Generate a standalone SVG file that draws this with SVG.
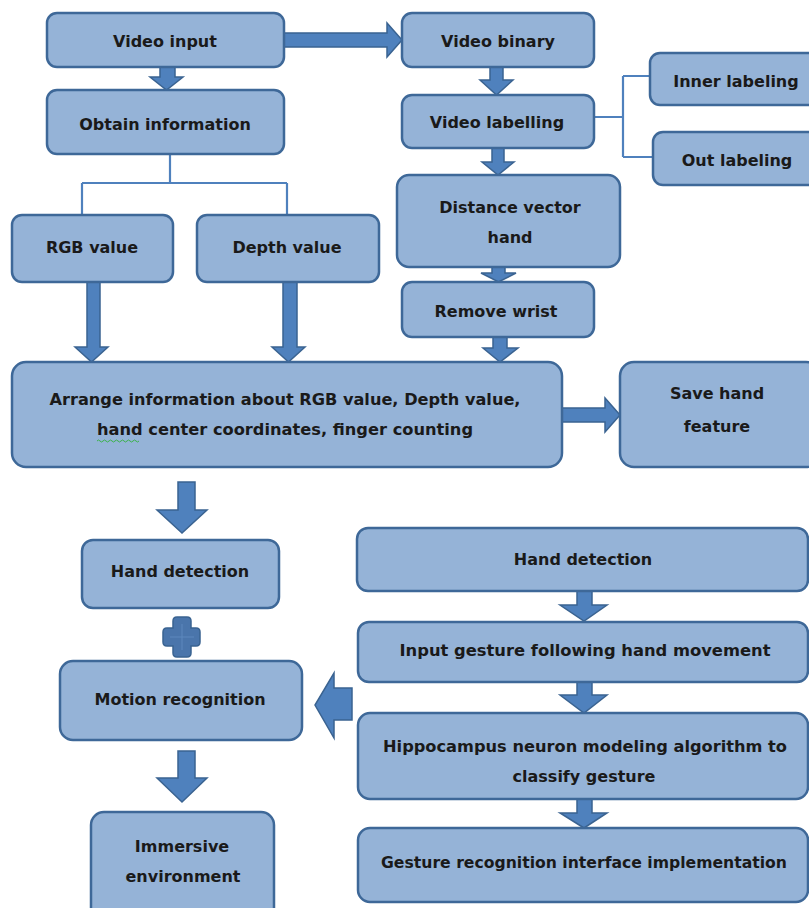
<svg xmlns="http://www.w3.org/2000/svg" width="809" height="908" viewBox="0 0 809 908">
<style>
.box{fill:#95b3d7;stroke:#3e6898;stroke-width:2.5}
.arr{fill:#4f81bd;stroke:#3a6391;stroke-width:1.5;stroke-linejoin:miter}
.ln{fill:none;stroke:#4f81bd;stroke-width:2.2}
text{font-family:"DejaVu Sans","Liberation Sans",sans-serif;font-weight:bold;font-size:16px;fill:#1a1a1a;text-anchor:middle}
</style>
<rect width="809" height="908" fill="#ffffff"/>
<g id="connectors">
<polygon class="arr" points="160,67 175,67 175,77 183,77 166.5,90 150,77 160,77"/>
<polygon class="arr" points="284,33 387,33 387,23 402,40 387,57 387,47 284,47"/>
<polygon class="arr" points="490,67 503,67 503,80 513,80 496.5,95 480,80 490,80"/>
<polygon class="arr" points="492,148 504,148 504,162 514,162 498,175 482,162 492,162"/>
<polygon class="arr" points="492,267 505,267 505,273 516,273 498.5,282 481,273 492,273"/>
<polygon class="arr" points="493,337 507,337 507,348 518,348 500,362 483,348 493,348"/>
<polygon class="arr" points="87,282 100,282 100,347 108,347 91.5,362 75,347 87,347"/>
<polygon class="arr" points="283,282 297,282 297,347 305,347 288.5,362 272,347 283,347"/>
<polygon class="arr" points="562,408 605,408 605,398 620,415 605,432 605,422 562,422"/>
<polygon class="arr" points="178,482 195,482 195,510 207,510 182,533 157,510 178,510"/>
<polygon class="arr" points="178,751 195,751 195,778 207,778 182,802 157,778 178,778"/>
<polygon class="arr" points="352,688 352,720 334,720 334,738 315,705 334,673 334,688"/>
<polygon class="arr" points="577,591 592,591 592,605 607,605 584,621 560,605 577,605"/>
<polygon class="arr" points="577,682 592,682 592,695 607,695 584,713 560,695 577,695"/>
<polygon class="arr" points="577,799 592,799 592,813 607,813 584,828 560,813 577,813"/>
<path class="ln" d="M170,154 V183 M82,183 H287 M82,183 V215 M287,183 V215"/>
<path class="ln" d="M594,117 H623 M623,76 V157 M623,76 H650 M623,157 H653"/>
<path d="M177,617 H187 Q191,617 191,621 V628 H196 Q200,628 200,632 V642 Q200,646 196,646 H191 V653 Q191,657 187,657 H177 Q173,657 173,653 V646 H167 Q163,646 163,642 V632 Q163,628 167,628 H173 V621 Q173,617 177,617 Z" fill="#4a75ab" stroke="#3a6391" stroke-width="1.5"/>
<path d="M182,624 V650 M170,637 H194" stroke="#5d88bd" stroke-width="1" fill="none"/>
</g>
<g id="video-input"><rect class="box" x="47" y="13" width="237" height="54" rx="10"/><text x="165" y="47">Video input</text></g>
<g id="obtain-information"><rect class="box" x="47" y="90" width="237" height="64" rx="10"/><text x="165" y="130">Obtain information</text></g>
<g id="video-binary"><rect class="box" x="402" y="13" width="192" height="54" rx="10"/><text x="498" y="47">Video binary</text></g>
<g id="video-labelling"><rect class="box" x="402" y="95" width="192" height="53" rx="10"/><text x="497" y="128">Video labelling</text></g>
<g id="inner-labeling"><rect class="box" x="650" y="53" width="170" height="52" rx="10"/><text x="736" y="87">Inner labeling</text></g>
<g id="out-labeling"><rect class="box" x="653" y="132" width="170" height="53" rx="10"/><text x="737" y="166">Out labeling</text></g>
<g id="distance-vector-hand"><rect class="box" x="397" y="175" width="223" height="92" rx="12"/><text x="510" y="213">Distance vector</text><text x="510" y="243">hand</text></g>
<g id="rgb-value"><rect class="box" x="12" y="215" width="161" height="67" rx="10"/><text x="92" y="253">RGB value</text></g>
<g id="depth-value"><rect class="box" x="197" y="215" width="182" height="67" rx="10"/><text x="287" y="253">Depth value</text></g>
<g id="remove-wrist"><rect class="box" x="402" y="282" width="192" height="55" rx="10"/><text x="496" y="317">Remove wrist</text></g>
<g id="arrange-information"><rect class="box" x="12" y="362" width="550" height="105" rx="14"/><text x="285" y="405" textLength="471" lengthAdjust="spacingAndGlyphs">Arrange information about RGB value, Depth value,</text><text x="285" y="435" textLength="376" lengthAdjust="spacingAndGlyphs">hand center coordinates, finger counting</text><path d="M97,441 q1.5,-2 3,0 t3,0 t3,0 t3,0 t3,0 t3,0 t3,0 t3,0 t3,0 t3,0 t3,0 t3,0 t3,0 t3,0" fill="none" stroke="#3bb24a" stroke-width="1"/></g>
<g id="save-hand-feature"><rect class="box" x="620" y="362" width="200" height="105" rx="14"/><text x="717" y="399">Save hand</text><text x="717" y="432">feature</text></g>
<g id="hand-detection-left"><rect class="box" x="82" y="540" width="197" height="68" rx="11"/><text x="180" y="577">Hand detection</text></g>
<g id="motion-recognition"><rect class="box" x="60" y="661" width="242" height="79" rx="13"/><text x="180" y="705">Motion recognition</text></g>
<g id="immersive-environment"><rect class="box" x="91" y="812" width="183" height="110" rx="13"/><text x="182" y="852">Immersive</text><text x="183" y="882">environment</text></g>
<g id="hand-detection-right"><rect class="box" x="357" y="528" width="451" height="63" rx="11"/><text x="583" y="565">Hand detection</text></g>
<g id="input-gesture"><rect class="box" x="358" y="622" width="450" height="60" rx="11"/><text x="585" y="656" textLength="371" lengthAdjust="spacingAndGlyphs">Input gesture following hand movement</text></g>
<g id="hippocampus"><rect class="box" x="358" y="713" width="450" height="86" rx="12"/><text x="585" y="752" textLength="404" lengthAdjust="spacingAndGlyphs">Hippocampus neuron modeling algorithm to</text><text x="584" y="782">classify gesture</text></g>
<g id="gesture-recognition"><rect class="box" x="358" y="828" width="450" height="74" rx="12"/><text x="584" y="868" textLength="406" lengthAdjust="spacingAndGlyphs">Gesture recognition interface implementation</text></g>
</svg>
